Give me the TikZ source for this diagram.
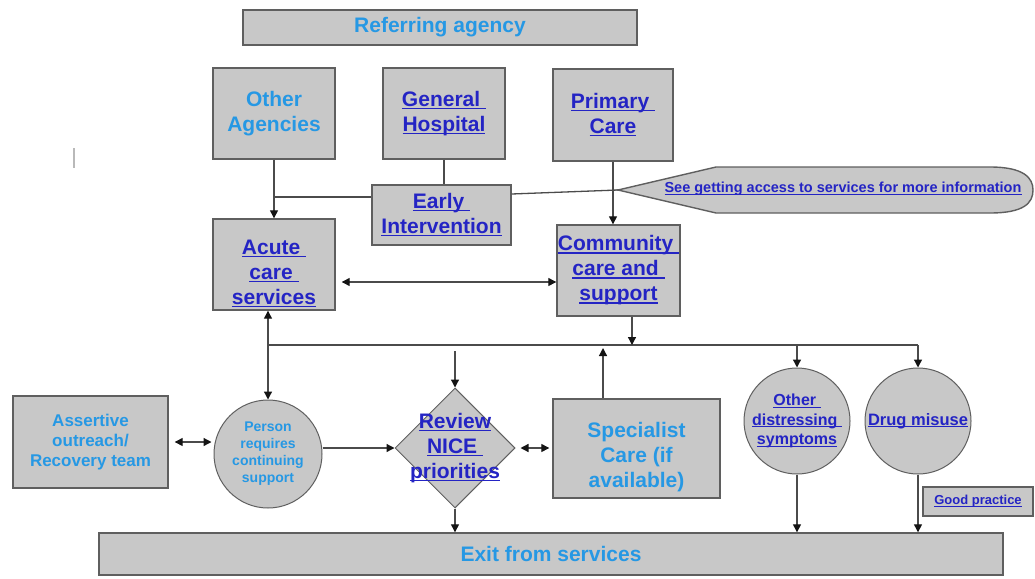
\documentclass[tikz,border=0pt]{standalone}
\usepackage{fontspec}
\setmainfont{Liberation Sans}
\usetikzlibrary{arrows.meta,shapes.geometric}

\definecolor{boxfill}{RGB}{200,200,200}
\definecolor{edge}{RGB}{95,95,95}
\definecolor{wirec}{RGB}{75,75,75}
\definecolor{tipc}{RGB}{20,20,20}
\definecolor{skyblue}{RGB}{38,152,228}
\definecolor{linkblue}{RGB}{36,36,196}
\definecolor{tickc}{RGB}{185,185,185}

% underlined hyperlink-style text: the rule sits at a fixed depth below the baseline
\newsavebox\lnkbox
\newcommand\lnk[1]{\sbox\lnkbox{#1}\rlap{\rule[-0.13em]{\wd\lnkbox}{0.075em}}\usebox\lnkbox}

\tikzset{
  box/.style={draw=edge, fill=boxfill, line width=1.4pt, inner sep=0pt, align=center,
              font=\bfseries\fontsize{21}{25}\selectfont},
  roundbox/.style={draw=edge, fill=boxfill, line width=1pt, circle, inner sep=0pt},
  sky/.style={text=skyblue},
  lnkt/.style={text=linkblue},
  txt/.style={align=center, inner sep=0pt},
  big/.style={font=\bfseries\fontsize{21}{25}\selectfont},
  wire/.style={draw=wirec, line width=1.3pt},
  arr/.style={wire, -{Triangle[length=8pt,width=8pt,color=tipc]}},
  darr/.style={wire, {Triangle[length=8pt,width=8pt,color=tipc]}-{Triangle[length=8pt,width=8pt,color=tipc]}}
}

\begin{document}
\begin{tikzpicture}[x=1pt,y=-1pt]
\useasboundingbox (0,0) rectangle (1035,578);

% small stray tick at the left margin
\draw[draw=tickc, line width=2pt] (74,148) -- (74,168);

% top row
\node[box,sky,minimum width=394pt,minimum height=35pt] (ref) at (440,27.5) {Referring agency};
\node[box,sky,minimum width=122pt,minimum height=91pt] (oth) at (274,113.5) {Other\\Agencies};
\node[box,lnkt,minimum width=122pt,minimum height=91pt] (gen) at (444,113.5) {\lnk{General\ }\\\lnk{Hospital}};
\node[box,lnkt,minimum width=120pt,minimum height=92pt] (pri) at (613,115) {\lnk{Primary\ }\\\lnk{Care}};

% early intervention and the information callout
\node[box,lnkt,minimum width=139pt,minimum height=60pt] (early) at (441.5,215) {\lnk{Early\ }\\\lnk{Intervention}};
\coordinate (tip) at (618,190);
\draw[draw=edge, fill=boxfill, line width=1.4pt]
  (tip) -- (716,167) -- (990,167)
  .. controls (1024,167) and (1033,178) .. (1033,190)
  .. controls (1033,203) and (1024,213) .. (990,213)
  -- (716,213) -- cycle;
\node[txt,lnkt,font=\bfseries\fontsize{14.5}{17}\selectfont] (see) at (843,189)
  {\lnk{See getting access to services for more information}};

% care services
\node[box,minimum width=122pt,minimum height=91pt] (acute) at (274,264.5) {};
\node[txt,lnkt,big] (acutetext) at ([yshift=-9pt]acute.center) {\lnk{Acute\ }\\\lnk{care\ }\\\lnk{services}};
\node[box,lnkt,minimum width=123pt,minimum height=91pt] (comm) at (618.5,270.5) {\lnk{Community\ }\\\lnk{care and\ }\\\lnk{support}};

% middle row
\node[box,sky,minimum width=155pt,minimum height=92pt,font=\bfseries\fontsize{17}{20}\selectfont] (asrt) at (90.5,442) {Assertive\\outreach/\\Recovery team};
\node[roundbox,minimum size=108pt] (person) at (268,454) {};
\node[txt,sky,font=\bfseries\fontsize{14}{17}\selectfont] (persontext) at (person.center) {Person\\requires\\continuing\\support};
\node[draw=edge, fill=boxfill, line width=1pt, diamond, minimum width=120pt, minimum height=120pt, inner sep=0pt] (review) at (455,448) {};
\node[txt,lnkt,big] (reviewtext) at (review.center) {\lnk{Review}\\\lnk{NICE\ }\\\lnk{priorities}};
\node[box,minimum width=167pt,minimum height=99pt] (spec) at (636.5,448.5) {};
\node[txt,sky,big] (spectext) at ([yshift=-9pt]spec.center) {Specialist\\Care (if\\available)};
\node[roundbox,minimum size=106pt] (other) at (797,421) {};
\node[txt,lnkt,font=\bfseries\fontsize{16}{19.5}\selectfont] (othertext) at (other.center) {\lnk{Other\ }\\\lnk{distressing\ }\\\lnk{symptoms}};
\node[roundbox,minimum size=106pt] (drug) at (918,421) {};
\node[txt,lnkt,font=\bfseries\fontsize{16.5}{19}\selectfont] (drugtext) at (drug.center) {\lnk{Drug misuse}};
\node[box,lnkt,minimum width=110pt,minimum height=29pt,line width=1.2pt,font=\bfseries\fontsize{13}{15}\selectfont] (good) at (978,501.5) {\lnk{Good practice}};

% bottom bar
\node[box,sky,minimum width=904pt,minimum height=42pt] (exit) at (551,554) {Exit from services};

% connectors from the referring agencies
\coordinate (join) at (274,197);
\draw[arr] (oth.south) -- (acute.north);
\draw[wire] (join) -- (early.west |- join);
\draw[wire] (gen.south) -- (gen.south |- early.north);
\draw[wire] ([yshift=21pt]early.east) -- (tip);
\draw[arr] (pri.south) -- (pri.south |- comm.north);

% acute <-> community
\coordinate (midrow) at (0,282);
\draw[darr, shorten <=6pt] (acute.east |- midrow) -- (comm.west |- midrow);

% distribution bus
\coordinate (busy) at (0,345);
\coordinate (busy2) at (0,351);
\coordinate (cdrop) at (632,345);
\coordinate (sup) at (603,348);
\draw[darr] (person.north |- acute.south) -- (person.north);
\draw[wire] (person.north |- busy) -- (drug.north |- busy);
\draw[arr] (comm.south -| cdrop) -- (cdrop);
\draw[arr] (spec.north -| sup) -- (sup);
\draw[arr] (review.north |- busy2) -- (review.north);
\draw[arr] (other.north |- busy) -- (other.north);
\draw[arr] (drug.north |- busy) -- (drug.north);

% middle row links
\draw[darr, shorten <=6pt, shorten >=2pt] (asrt.east) -- (person.west |- asrt.east);
\draw[arr] (person.east |- review.west) -- (review.west);
\draw[darr, shorten <=5pt, shorten >=3pt] (review.east) -- (review.east -| spec.west);

% exits
\draw[arr] (review.south) -- (review.south |- exit.north);
\draw[arr] (other.south) -- (other.south |- exit.north);
\draw[arr] (drug.south) -- (drug.south |- exit.north);
\end{tikzpicture}
\end{document}
